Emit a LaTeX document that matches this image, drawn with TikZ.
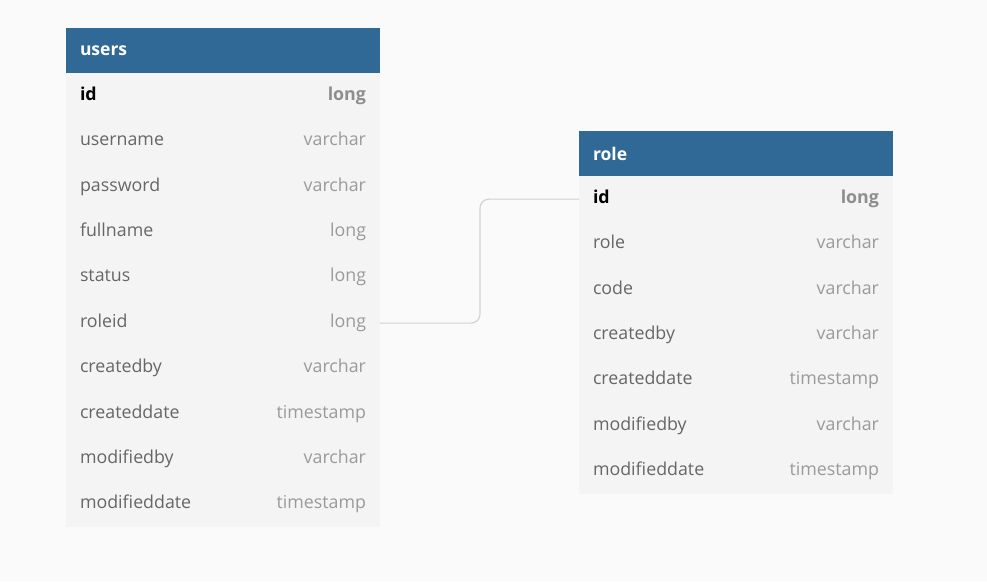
\documentclass[tikz,border=0pt]{standalone}
\usepackage{fontspec}
\setmainfont{Open Sans}
\usepackage{xcolor}
\definecolor{pagebg}{HTML}{FAFAFA}
\definecolor{headblue}{HTML}{306896}
\definecolor{rowbg}{HTML}{F4F4F4}
\definecolor{namegray}{HTML}{666666}
\definecolor{typegray}{HTML}{9A9A9A}
\definecolor{keytype}{HTML}{8E8E8E}
\definecolor{linkgray}{HTML}{D2D2D2}
\usetikzlibrary{positioning}
\newcommand{\field}[2]{\hbox to 286pt{\color{namegray}#1\hfill\color{typegray}#2}}
\newcommand{\keyfield}[2]{\hbox to 286pt{\bfseries\color{black}#1\hfill\color{keytype}#2}}

\begin{document}
\begin{tikzpicture}[
			node distance=0pt,
			head/.style={
				rectangle,
				fill=headblue,
				outer sep=0pt,
				minimum width=314pt,
				minimum height=45.4pt,
				inner xsep=14pt,
				inner ysep=0pt,
				text width=286pt,
				align=left,
				text=white,
				font=\fontsize{17.5}{20}\selectfont\bfseries,
			},
			row/.style={
				rectangle,
				fill=rowbg,
				outer sep=0pt,
				minimum width=314pt,
				minimum height=45.4pt,
				inner xsep=14pt,
				inner ysep=0pt,
				text height=13pt,
				text depth=4.5pt,
				font=\fontsize{17.8}{20}\selectfont,
			},
			link/.style={draw=linkgray, line width=1.2pt, rounded corners=9pt},
			]
			\fill[pagebg] (0,0) rectangle (987pt,-581pt);
			\useasboundingbox (0,0) rectangle (987pt,-581pt);
			
			% users table
			\node[head, anchor=north west] (users) at (66pt,-28pt) {users};
			\node[row, below=of users] (u1) {\keyfield{id}{long}};
			\node[row, below=of u1] (u2) {\field{username}{varchar}};
			\node[row, below=of u2] (u3) {\field{password}{varchar}};
			\node[row, below=of u3] (u4) {\field{fullname}{long}};
			\node[row, below=of u4] (u5) {\field{status}{long}};
			\node[row, below=of u5] (u6) {\field{roleid}{long}};
			\node[row, below=of u6] (u7) {\field{createdby}{varchar}};
			\node[row, below=of u7] (u8) {\field{createddate}{timestamp}};
			\node[row, below=of u8] (u9) {\field{modifiedby}{varchar}};
			\node[row, below=of u9] (u10) {\field{modifieddate}{timestamp}};
			
			% role table
			\node[head, anchor=north west] (role) at (579pt,-131pt) {role};
			\node[row, below=of role] (r1) {\keyfield{id}{long}};
			\node[row, below=of r1] (r2) {\field{role}{varchar}};
			\node[row, below=of r2] (r3) {\field{code}{varchar}};
			\node[row, below=of r3] (r4) {\field{createdby}{varchar}};
			\node[row, below=of r4] (r5) {\field{createddate}{timestamp}};
			\node[row, below=of r5] (r6) {\field{modifiedby}{varchar}};
			\node[row, below=of r6] (r7) {\field{modifieddate}{timestamp}};
			
			\draw[link] (u6.east) -- ++(100pt,0) |- (r1.west);
		\end{tikzpicture}
\end{document}
